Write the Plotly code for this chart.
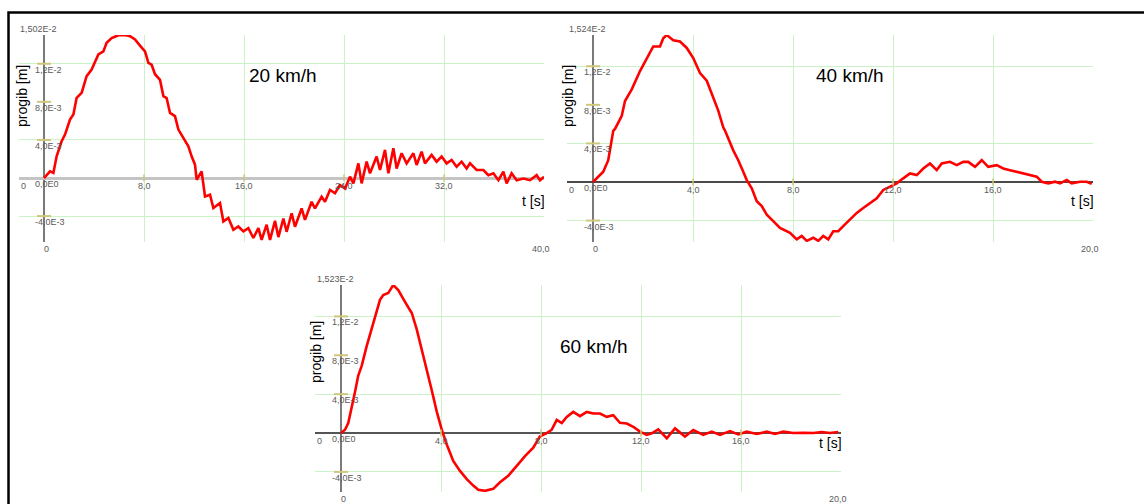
import plotly.graph_objects as go

W, H = 1144, 504

# ---------------- data (deflection in mm = 1E-3 m) ----------------
t_20 = [0.0, 0.48, 0.75, 1.01, 1.41, 1.68, 2.08, 2.35, 2.61, 3.01, 3.41, 3.81, 4.35, 4.75, 5.01, 5.41,
        5.95, 6.48, 6.88, 7.28, 7.68, 8.08, 8.35, 8.61, 8.88, 9.28, 9.55, 9.81, 10.08, 10.48, 10.75,
        11.15, 11.55, 11.81, 12.08, 12.21, 12.61, 12.88, 13.28, 13.55, 14.08, 14.35, 14.75, 15.15,
        15.55, 15.95, 16.35, 16.75, 17.15, 17.41, 17.81, 18.08, 18.48, 18.75, 19.15, 19.41, 19.81,
        20.08, 20.61, 20.88, 21.41, 21.68, 22.21, 22.48, 22.88, 23.28, 23.68, 24.08, 24.48, 24.75,
        25.15, 25.41, 25.81, 26.08, 26.61, 26.88, 27.28, 27.55, 27.95, 28.21, 28.61, 29.01, 29.55,
        29.81, 30.21, 30.48, 31.01, 31.41, 31.81, 32.21, 32.61, 33.01, 33.41, 33.81, 34.08, 34.61,
        35.15, 35.55, 35.95, 36.35, 36.75, 37.01, 37.41, 37.81, 38.35, 38.88, 39.41, 39.68, 40.0]
d_20 = [0.0, 0.7, 0.53, 2.28, 3.86, 4.56, 6.14, 6.67, 8.42, 8.95, 10.7, 11.4, 12.98, 13.3, 14.2, 14.7,
        15.0, 15.02, 14.9, 14.56, 13.9, 13.3, 12.1, 11.9, 10.9, 10.3, 8.6, 8.4, 6.84, 6.5, 5.09,
        4.2, 3.33, 2.28, 1.4, -0.18, 0.7, -1.93, -1.75, -3.16, -2.63, -4.56, -4.2, -5.44,
        -5.09, -5.6, -5.26, -6.3, -5.26, -6.5, -4.9, -6.5, -4.5, -6.2, -4.26, -5.65, -3.7,
        -5.12, -3.2, -4.4, -2.5, -3.2, -1.96, -2.5, -1.26, -1.6, -0.74, -1.1, 0.14, -0.56,
        1.54, -0.56, 1.72, 0.49, 2.25, 0.84, 2.95, 0.49, 3.12, 1.0, 2.6, 1.54, 2.6,
        1.37, 2.77, 1.54, 2.42, 1.72, 2.25, 1.54, 1.9, 1.19, 1.72, 1.0, 1.54, 0.84,
        0.84, 0.3, 0.49, -0.23, 0.67, -0.56, 0.49, -0.23, -0.05, -0.23, 0.3, -0.23, 0.14]

t_40 = [0.0, 0.41, 0.61, 0.81, 0.88, 1.15, 1.28, 1.55, 1.88, 2.15, 2.41, 2.68, 2.81, 2.95, 3.21, 3.48,
        3.75, 4.01, 4.28, 4.55, 4.81, 5.01, 5.21, 5.28, 5.61, 5.81, 6.01, 6.15, 6.35, 6.55, 6.75,
        6.95, 7.21, 7.48, 7.88, 8.15, 8.35, 8.55, 8.81, 9.01, 9.21, 9.41, 9.61, 9.81, 10.08, 10.28,
        10.55, 10.81, 11.08, 11.35, 11.61, 11.88, 12.15, 12.41, 12.68, 12.95, 13.21, 13.48, 13.75,
        13.95, 14.28, 14.55, 14.81, 15.01, 15.28, 15.55, 15.81, 16.15, 16.41, 16.68, 16.95, 17.28,
        17.55, 17.75, 17.95, 18.21, 18.48, 18.68, 18.95, 19.15, 19.48, 19.75, 19.95]
d_40 = [0.0, 1.06, 2.26, 5.3, 5.5, 6.87, 8.4, 9.6, 11.5, 12.85, 14.05, 14.05, 14.9, 15.24, 14.7, 14.56,
        13.9, 12.85, 11.3, 10.5, 8.75, 7.4, 5.67, 5.33, 3.28, 2.26, 1.06, 0.2, -0.65, -2.0, -2.5,
        -3.38, -4.06, -4.75, -5.26, -5.95, -5.6, -6.1, -5.78, -6.1, -5.6, -5.95, -5.1, -5.1, -4.4, -3.9,
        -3.2, -2.7, -2.2, -1.7, -0.82, -0.48, -0.14, 0.38, 0.89, 0.72, 1.4, 1.92, 1.23,
        1.92, 2.09, 1.75, 2.09, 2.09, 1.57, 2.26, 1.57, 1.75, 1.4, 1.23, 1.06, 0.89,
        0.72, 0.55, 0.03, -0.14, 0.03, -0.14, 0.2, -0.14, 0.03, 0.03, -0.2]

t_60 = [0.0, 0.16, 0.29, 0.43, 0.56, 0.69, 0.83, 1.03, 1.23, 1.43, 1.56, 1.69, 1.89, 2.09, 2.29, 2.56,
        2.83, 3.03, 3.23, 3.43, 3.63, 3.83, 4.03, 4.23, 4.49, 4.76, 5.03, 5.29, 5.49, 5.76, 6.09,
        6.36, 6.69, 7.03, 7.36, 7.69, 7.96, 8.23, 8.43, 8.63, 8.83, 9.03, 9.29, 9.56, 9.83, 10.09,
        10.36, 10.63, 10.89, 11.16, 11.43, 11.69, 11.96, 12.23, 12.43, 12.69, 13.03, 13.36, 13.76,
        14.09, 14.49, 14.83, 15.16, 15.56, 15.89, 16.23, 16.63, 17.03, 17.36, 17.69, 18.09, 18.49,
        18.89, 19.23, 19.56, 19.89]
d_60 = [0.0, 0.34, 1.02, 2.54, 4.23, 5.92, 6.94, 8.97, 10.8, 12.35, 13.7, 14.2, 14.4, 15.23, 14.7, 13.5,
        12.35, 10.66, 8.63, 6.6, 4.4, 2.2, 0.34, -1.18, -2.88, -3.9, -4.74, -5.41, -5.85, -5.95, -5.75,
        -5.07, -4.4, -3.38, -2.37, -1.52, -0.34, 0.0, 0.34, 1.35, 1.02, 1.66, 2.17, 1.73, 2.17, 2.0,
        2.0, 1.66, 1.83, 1.05, 0.98, 0.64, 0.14, -0.2, -0.03, 0.37, -0.54, 0.47, -0.37,
        0.3, -0.2, 0.14, -0.2, 0.2, -0.14, 0.14, -0.1, 0.14, -0.1, 0.14, 0.0, 0.03,
        0.0, 0.1, 0.0, 0.1]

titles = ["20 km/h", "40 km/h", "60 km/h"]
max_labels = ["1,502E-2", "1,524E-2", "1,523E-2"]
max_values = [0.01502, 0.01524, 0.01523]
end_labels = ["40,0", "20,0", "20,0"]
t_ends = [40.0, 20.0, 20.0]
x_tick_vals = [[8, 16, 24, 32], [4, 8, 12, 16], [4, 8, 12, 16]]
x_tick_text = [["8,0", "16,0", "24,0", "32,0"], ["4,0", "8,0", "12,0", "16,0"],
               ["4,0", "8,0", "12,0", "16,0"]]
y_tick_vals = [0.012, 0.008, 0.004, 0.0, -0.004]
y_tick_text = ["1,2E-2", "8,0E-3", "4,0E-3", "0,0E0", "-4,0E-3"]
y_grid_vals = [0.012, 0.004, -0.004]
y_mark_vals = [0.012, 0.008, 0.004, -0.004]
y_label = "progib [m]"
x_label = "t [s]"

series = [(t_20, d_20), (t_40, d_40), (t_60, d_60)]

# ---------------- layout geometry (pixels) ----------------
geo = [
    dict(x=(19, 544), y=(35, 242), xr=[-2.0, 40.0], yr=[-0.00672, 0.01502],
         zc="#c4c4c4", zw=3, title=(283, 75), ylab=(22, 96), tlab_y=201),
    dict(x=(567, 1093), y=(35, 242), xr=[-1.04, 20.0], yr=[-0.00622, 0.01524],
         zc="#4a4a4a", zw=2, title=(850, 75), ylab=(568, 96), tlab_y=201),
    dict(x=(315, 841), y=(285, 492), xr=[-1.04, 20.0], yr=[-0.00607, 0.01523],
         zc="#555555", zw=2, title=(594, 346), ylab=(316, 352), tlab_y=443),
]

GRID = "#ccf2c8"
TICKC = "#cfc77a"
LABC = "#5a5a5a"
FONT = "Arial, Liberation Sans, sans-serif"

fig = go.Figure()
annotations = []
layout = {}

for i, ((t, d), g) in enumerate(zip(series, geo)):
    n = "" if i == 0 else str(i + 1)
    xa, ya = "x" + n, "y" + n
    fig.add_trace(go.Scatter(x=t, y=[v / 1000.0 for v in d], xaxis=xa, yaxis=ya, mode="lines",
                             line=dict(color="#ff0000", width=2.6), showlegend=False,
                             hoverinfo="skip"))
    # small yellow tick marks
    fig.add_trace(go.Scatter(x=[0] * len(y_mark_vals), y=y_mark_vals, xaxis=xa, yaxis=ya,
                             mode="markers", showlegend=False, hoverinfo="skip",
                             marker=dict(symbol="line-ew", size=10,
                                         line=dict(width=2, color=TICKC))))
    fig.add_trace(go.Scatter(x=x_tick_vals[i], y=[0] * len(x_tick_vals[i]), xaxis=xa, yaxis=ya,
                             mode="markers", showlegend=False, hoverinfo="skip",
                             marker=dict(symbol="line-ns", size=5,
                                         line=dict(width=1.5, color=TICKC))))

    layout["xaxis" + n] = dict(
        domain=[g["x"][0] / W, g["x"][1] / W], range=g["xr"], anchor=ya,
        tickmode="array", tickvals=x_tick_vals[i], showticklabels=False, ticks="",
        showgrid=True, gridcolor=GRID, gridwidth=1, showline=False,
        zeroline=True, zerolinecolor="#7a7a7a", zerolinewidth=2, fixedrange=True)
    layout["yaxis" + n] = dict(
        domain=[1 - g["y"][1] / H, 1 - g["y"][0] / H], range=g["yr"], anchor=xa,
        tickmode="array", tickvals=y_grid_vals, showticklabels=False, ticks="",
        showgrid=True, gridcolor=GRID, gridwidth=1, showline=False,
        zeroline=True, zerolinecolor=g["zc"], zerolinewidth=g["zw"], fixedrange=True)

    small = dict(family=FONT, size=9, color=LABC)
    # y tick labels
    for v, lab in zip(y_tick_vals, y_tick_text):
        annotations.append(dict(x=0, y=v, xref=xa, yref=ya, text=lab, showarrow=False,
                                xanchor="left", yanchor="top", xshift=-11, yshift=1, font=small))
    annotations.append(dict(x=0, y=max_values[i], xref=xa, yref=ya, text=max_labels[i],
                            showarrow=False, xanchor="left", yanchor="bottom", xshift=-26,
                            yshift=-1, font=small))
    # x tick labels
    for v, lab in zip(x_tick_vals[i], x_tick_text[i]):
        annotations.append(dict(x=v, y=0, xref=xa, yref=ya, text=lab, showarrow=False,
                                xanchor="center", yanchor="top", yshift=-1, font=small))
    annotations.append(dict(x=g["xr"][0], y=0, xref=xa, yref=ya, text="0", showarrow=False,
                            xanchor="left", yanchor="top", yshift=-1, font=small))
    annotations.append(dict(x=0, y=g["yr"][0], xref=xa, yref=ya, text="0", showarrow=False,
                            xanchor="center", yanchor="top", xshift=2, yshift=0, font=small))
    annotations.append(dict(x=t_ends[i], y=g["yr"][0], xref=xa, yref=ya, text=end_labels[i],
                            showarrow=False, xanchor="center", yanchor="top", xshift=-3,
                            yshift=0, font=small))
    # titles
    annotations.append(dict(x=g["title"][0] / W, y=1 - g["title"][1] / H, xref="paper",
                            yref="paper", text=titles[i], showarrow=False, xanchor="center",
                            yanchor="middle", font=dict(family=FONT, size=19, color="#000")))
    annotations.append(dict(x=g["ylab"][0] / W, y=1 - g["ylab"][1] / H, xref="paper",
                            yref="paper", text=y_label, textangle=-90, showarrow=False,
                            xanchor="center", yanchor="middle",
                            font=dict(family=FONT, size=14, color="#000")))
    annotations.append(dict(x=t_ends[i], y=1 - g["tlab_y"] / H, xref=xa, yref="paper",
                            text=x_label, showarrow=False, xanchor="right", yanchor="middle",
                            xshift=3, font=dict(family=FONT, size=14, color="#000")))

fig.update_layout(
    width=W, height=H, margin=dict(l=0, r=0, t=0, b=0),
    paper_bgcolor="white", plot_bgcolor="rgba(0,0,0,0)",
    font=dict(family=FONT), annotations=annotations, showlegend=False,
    shapes=[dict(type="rect", xref="paper", yref="paper", x0=8.5 / W, x1=1.02,
                 y0=-0.05, y1=1 - 12.5 / H, line=dict(color="black", width=2.5))],
    **layout)

fig.write_html("out.html", config={"displayModeBar": False},
               post_script="document.body.style.margin='0';document.body.style.overflow='hidden';")
